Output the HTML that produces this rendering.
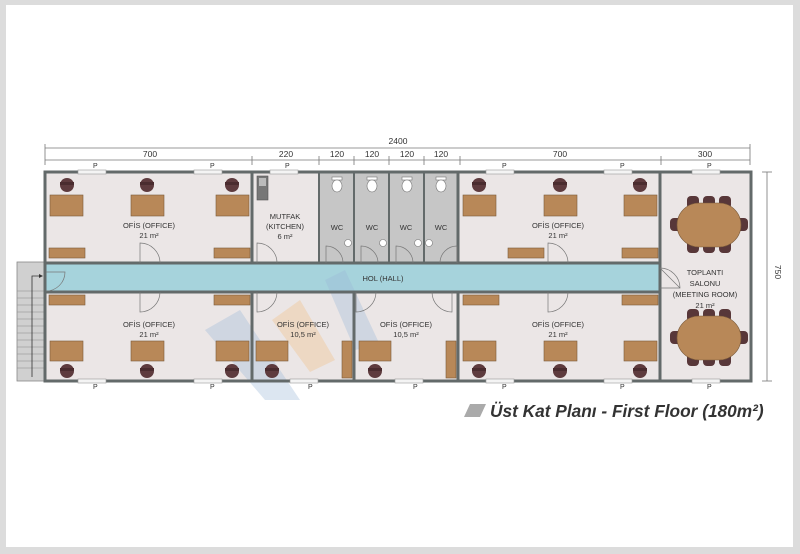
<!DOCTYPE html>
<html><head><meta charset="utf-8"><style>
html,body{margin:0;padding:0;background:#dcdcdc;}
svg{display:block;}
text{font-family:"Liberation Sans",sans-serif;}
</style></head><body>
<svg width="800" height="554" viewBox="0 0 800 554" xmlns="http://www.w3.org/2000/svg">
<defs>
<g id="ch"><ellipse cx="0" cy="0" rx="7" ry="7" fill="#5e3b3e"/><rect x="-7" y="-3" width="14" height="3" fill="#4a2c2f"/></g>
<g id="mc"><rect x="-6" y="-7" width="12" height="13" rx="4" fill="#583739"/></g>
</defs>
<rect x="6" y="5" width="787" height="542" fill="#fff"/>
<g stroke="#777" stroke-width="0.8">
<line x1="45" y1="148" x2="750" y2="148"/>
<line x1="45" y1="160" x2="750" y2="160"/>
<line x1="45" y1="144" x2="45" y2="165"/><line x1="750" y1="144" x2="750" y2="165"/>
<line x1="252" y1="156" x2="252" y2="165"/><line x1="319" y1="156" x2="319" y2="165"/>
<line x1="354" y1="156" x2="354" y2="165"/><line x1="389" y1="156" x2="389" y2="165"/>
<line x1="424" y1="156" x2="424" y2="165"/><line x1="460" y1="156" x2="460" y2="165"/>
<line x1="661" y1="156" x2="661" y2="165"/>
<line x1="767" y1="172" x2="767" y2="381"/>
<line x1="762" y1="172" x2="772" y2="172"/><line x1="762" y1="381" x2="772" y2="381"/>
</g>
<g font-size="8.5" fill="#333" text-anchor="middle">
<text x="398" y="144">2400</text>
<text x="150" y="157">700</text><text x="286" y="157">220</text>
<text x="337" y="157">120</text><text x="372" y="157">120</text>
<text x="407" y="157">120</text><text x="441" y="157">120</text>
<text x="560" y="157">700</text><text x="705" y="157">300</text>
<text transform="translate(775,272) rotate(90)">750</text>
</g>
<rect x="17" y="262" width="29" height="119" fill="#d0d0d0" stroke="#888" stroke-width="0.8"/>
<g stroke="#8a8a8a" stroke-width="0.6">
<line x1="17" y1="291" x2="46" y2="291"/><line x1="17" y1="298" x2="46" y2="298"/><line x1="17" y1="305" x2="46" y2="305"/>
<line x1="17" y1="312" x2="46" y2="312"/><line x1="17" y1="319" x2="46" y2="319"/><line x1="17" y1="326" x2="46" y2="326"/>
<line x1="17" y1="333" x2="46" y2="333"/><line x1="17" y1="340" x2="46" y2="340"/><line x1="17" y1="347" x2="46" y2="347"/>
<line x1="17" y1="354" x2="46" y2="354"/><line x1="17" y1="361" x2="46" y2="361"/><line x1="17" y1="368" x2="46" y2="368"/>
</g>
<polyline points="32,377 32,276 42,276" fill="none" stroke="#333" stroke-width="0.8"/>
<polygon points="43,276 39,274 39,278" fill="#333"/>
<rect x="45" y="172" width="706" height="209" fill="#ebe6e6"/>
<rect x="319" y="172" width="139" height="91" fill="#c6c6c6"/>
<rect x="45" y="264" width="615" height="27" fill="#a6d3dc"/>
<polygon points="205,330 240,310 300,400 265,400" fill="#9bb6d8" opacity="0.35"/>
<polygon points="272,320 300,300 335,360 310,372" fill="#f1c48f" opacity="0.4"/>
<polygon points="325,280 345,270 380,345 355,350" fill="#9bb6d8" opacity="0.35"/>
<g fill="none" stroke="#636a6a" stroke-width="3">
<rect x="45" y="172" width="706" height="209"/>
<line x1="45" y1="263" x2="660" y2="263"/>
<line x1="45" y1="292" x2="660" y2="292"/>
<line x1="252" y1="172" x2="252" y2="263"/>
<line x1="660" y1="172" x2="660" y2="381"/>
<line x1="458" y1="172" x2="458" y2="263"/>
<line x1="252" y1="292" x2="252" y2="381"/>
<line x1="354" y1="292" x2="354" y2="381"/>
<line x1="458" y1="292" x2="458" y2="381"/>
</g>
<g stroke="#636a6a" stroke-width="2">
<line x1="319" y1="172" x2="319" y2="263"/><line x1="354" y1="172" x2="354" y2="263"/>
<line x1="389" y1="172" x2="389" y2="263"/><line x1="424" y1="172" x2="424" y2="263"/>
</g>
<g fill="#f4f4f4" stroke="#999" stroke-width="0.6">
<rect x="78" y="170" width="28" height="4"/><rect x="194" y="170" width="28" height="4"/>
<rect x="270" y="170" width="28" height="4"/><rect x="486" y="170" width="28" height="4"/>
<rect x="604" y="170" width="28" height="4"/><rect x="692" y="170" width="28" height="4"/>
<rect x="78" y="379" width="28" height="4"/><rect x="194" y="379" width="28" height="4"/>
<rect x="290" y="379" width="28" height="4"/><rect x="395" y="379" width="28" height="4"/>
<rect x="486" y="379" width="28" height="4"/><rect x="604" y="379" width="28" height="4"/>
<rect x="692" y="379" width="28" height="4"/>
</g>
<g font-size="7" fill="#333">
<text x="93" y="168">P</text><text x="210" y="168">P</text><text x="285" y="168">P</text>
<text x="502" y="168">P</text><text x="620" y="168">P</text><text x="707" y="168">P</text>
<text x="93" y="389">P</text><text x="210" y="389">P</text><text x="308" y="389">P</text>
<text x="413" y="389">P</text><text x="502" y="389">P</text><text x="620" y="389">P</text>
<text x="707" y="389">P</text>
</g>
<g fill="none" stroke="#777" stroke-width="0.7">
<path d="M140 263 L140 243 A20 20 0 0 1 160 263"/>
<path d="M140 292 L140 312 A20 20 0 0 0 160 292"/>
<path d="M257 263 L257 243 A20 20 0 0 1 277 263"/>
<path d="M257 292 L257 312 A20 20 0 0 0 277 292"/>
<path d="M326 263 L326 246 A17 17 0 0 1 343 263"/>
<path d="M361 263 L361 246 A17 17 0 0 1 378 263"/>
<path d="M396 263 L396 246 A17 17 0 0 1 413 263"/>
<path d="M457 263 L457 246 A17 17 0 0 0 440 263"/>
<path d="M356 292 L356 312 A20 20 0 0 0 376 292"/>
<path d="M452 292 L452 312 A20 20 0 0 1 432 292"/>
<path d="M548 263 L548 243 A20 20 0 0 1 568 263"/>
<path d="M548 292 L548 312 A20 20 0 0 0 568 292"/>
<path d="M660 268 L680 288 M660 268 A20 20 0 0 1 680 288 L660 288"/>
<path d="M46 291 A19 19 0 0 0 65 272 L46 272"/>
</g>
<g fill="#fff" stroke="#777" stroke-width="0.6">
<rect x="332" y="177" width="10" height="3"/><ellipse cx="337" cy="186" rx="5" ry="6"/>
<rect x="367" y="177" width="10" height="3"/><ellipse cx="372" cy="186" rx="5" ry="6"/>
<rect x="402" y="177" width="10" height="3"/><ellipse cx="407" cy="186" rx="5" ry="6"/>
<rect x="436" y="177" width="10" height="3"/><ellipse cx="441" cy="186" rx="5" ry="6"/>
<circle cx="348" cy="243" r="3.5"/><circle cx="383" cy="243" r="3.5"/>
<circle cx="418" cy="243" r="3.5"/><circle cx="429" cy="243" r="3.5"/>
</g>
<rect x="257" y="176" width="11" height="24" fill="#777" stroke="#555" stroke-width="0.6"/>
<rect x="259" y="178" width="7" height="8" fill="#bbb"/>
<!-- meeting chairs -->
<use href="#mc" x="693" y="203"/><use href="#mc" x="709" y="203"/><use href="#mc" x="725" y="203"/>
<use href="#mc" x="693" y="247"/><use href="#mc" x="709" y="247"/><use href="#mc" x="725" y="247"/>
<use href="#mc" x="676" y="225"/><use href="#mc" x="742" y="225"/>
<use href="#mc" x="693" y="316"/><use href="#mc" x="709" y="316"/><use href="#mc" x="725" y="316"/>
<use href="#mc" x="693" y="360"/><use href="#mc" x="709" y="360"/><use href="#mc" x="725" y="360"/>
<use href="#mc" x="676" y="338"/><use href="#mc" x="742" y="338"/>
<g fill="#b88858" stroke="#7a5a3a" stroke-width="0.6">
<rect x="50" y="195" width="33" height="21"/><rect x="131" y="195" width="33" height="21"/><rect x="216" y="195" width="33" height="21"/>
<rect x="49" y="248" width="36" height="10"/><rect x="214" y="248" width="36" height="10"/>
<rect x="49" y="295" width="36" height="10"/><rect x="214" y="295" width="36" height="10"/>
<rect x="50" y="341" width="33" height="20"/><rect x="131" y="341" width="33" height="20"/><rect x="216" y="341" width="33" height="20"/>
<rect x="256" y="341" width="32" height="20"/><rect x="342" y="341" width="10" height="37"/>
<rect x="359" y="341" width="32" height="20"/><rect x="446" y="341" width="10" height="37"/>
<rect x="463" y="195" width="33" height="21"/><rect x="544" y="195" width="33" height="21"/><rect x="624" y="195" width="33" height="21"/>
<rect x="508" y="248" width="36" height="10"/><rect x="622" y="248" width="36" height="10"/>
<rect x="463" y="295" width="36" height="10"/><rect x="622" y="295" width="36" height="10"/>
<rect x="463" y="341" width="33" height="20"/><rect x="544" y="341" width="33" height="20"/><rect x="624" y="341" width="33" height="20"/>
<rect x="677" y="203" width="64" height="44" rx="22"/>
<rect x="677" y="316" width="64" height="44" rx="22"/>
</g>
<use href="#ch" x="67" y="185"/><use href="#ch" x="147" y="185"/><use href="#ch" x="232" y="185"/>
<use href="#ch" x="67" y="371"/><use href="#ch" x="147" y="371"/><use href="#ch" x="232" y="371"/>
<use href="#ch" x="272" y="371"/><use href="#ch" x="375" y="371"/>
<use href="#ch" x="479" y="185"/><use href="#ch" x="560" y="185"/><use href="#ch" x="640" y="185"/>
<use href="#ch" x="479" y="371"/><use href="#ch" x="560" y="371"/><use href="#ch" x="640" y="371"/>
<g font-size="7.5" fill="#333" text-anchor="middle">
<text x="149" y="228">OFİS (OFFICE)</text><text x="149" y="238">21 m²</text>
<text x="285" y="219">MUTFAK</text><text x="285" y="229">(KITCHEN)</text><text x="285" y="239">6 m²</text>
<text x="337" y="230">WC</text><text x="372" y="230">WC</text><text x="406" y="230">WC</text><text x="441" y="230">WC</text>
<text x="383" y="281">HOL (HALL)</text>
<text x="149" y="327">OFİS (OFFICE)</text><text x="149" y="337">21 m²</text>
<text x="303" y="327">OFİS (OFFICE)</text><text x="303" y="337">10,5 m²</text>
<text x="406" y="327">OFİS (OFFICE)</text><text x="406" y="337">10,5 m²</text>
<text x="558" y="228">OFİS (OFFICE)</text><text x="558" y="238">21 m²</text>
<text x="558" y="327">OFİS (OFFICE)</text><text x="558" y="337">21 m²</text>
<text x="705" y="275">TOPLANTI</text><text x="705" y="286">SALONU</text>
<text x="705" y="297">(MEETING ROOM)</text><text x="705" y="308">21 m²</text>
</g>
<polygon points="464,417 470,404 486,404 480,417" fill="#aaa"/>
<text x="490" y="417" font-size="17.3" font-weight="bold" font-style="italic" fill="#333">Üst Kat Planı - First Floor (180m²)</text>
</svg>
</body></html>
